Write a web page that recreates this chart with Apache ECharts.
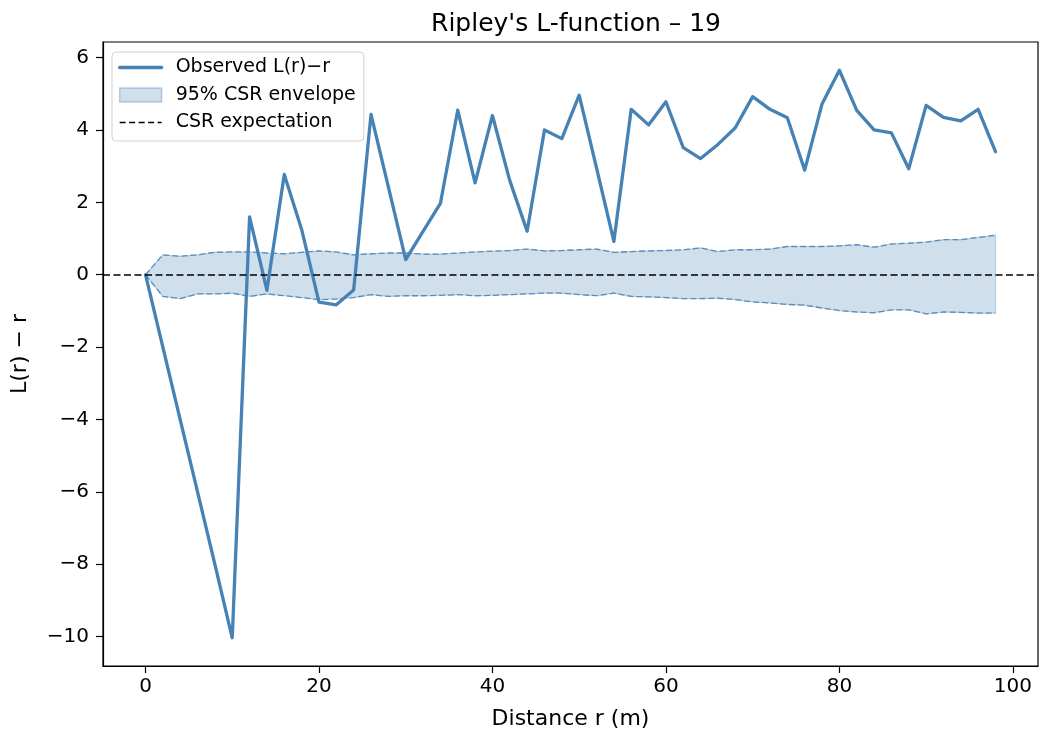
<!DOCTYPE html>
<html>
<head>
<meta charset="utf-8">
<script src="https://cdn.jsdelivr.net/npm/echarts@6/dist/echarts.min.js"></script>
<style>
html,body{margin:0;padding:0;background:#fff;}
#chart{width:1043px;height:738px;}
</style>
</head>
<body>
<div id="chart"></div>
<script>
// ---- data ----
var titleText = "Ripley's L-function \u2013 19";
var xLabel = "Distance r (m)";
var yLabel = "L(r) \u2212 r";
var seriesNames = ["Observed L(r)\u2212r", "95% CSR envelope", "CSR expectation"];
var r = [0,2,4,6,8,10,12,14,16,18,20,22,24,26,28,30,32,34,36,38,40,42,44,46,48,50,52,54,56,58,60,62,64,66,68,70,72,74,76,78,80,82,84,86,88,90,92,94,96,98];
var observed = [0,-2,-4,-6,-8,-10.03,1.6,-0.43,2.77,1.25,-0.76,-0.83,-0.42,4.43,2.43,0.42,1.2,1.97,4.55,2.54,4.40,2.6,1.2,4.0,3.76,4.96,2.95,0.92,4.57,4.14,4.78,3.51,3.21,3.6,4.06,4.92,4.57,4.34,2.89,4.72,5.65,4.54,4.0,3.92,2.93,4.68,4.35,4.25,4.57,3.40];
var upper = [0,0.55,0.51,0.55,0.62,0.63,0.63,0.6,0.58,0.62,0.66,0.63,0.55,0.58,0.6,0.6,0.57,0.57,0.6,0.63,0.65,0.67,0.71,0.66,0.67,0.69,0.71,0.62,0.64,0.66,0.67,0.69,0.74,0.64,0.69,0.69,0.71,0.78,0.78,0.78,0.8,0.83,0.76,0.85,0.87,0.9,0.97,0.97,1.03,1.09];
var lower = [0,-0.6,-0.66,-0.53,-0.53,-0.51,-0.6,-0.53,-0.58,-0.63,-0.69,-0.67,-0.63,-0.55,-0.6,-0.58,-0.58,-0.57,-0.55,-0.58,-0.57,-0.55,-0.53,-0.51,-0.51,-0.55,-0.58,-0.51,-0.6,-0.61,-0.63,-0.66,-0.66,-0.65,-0.69,-0.75,-0.78,-0.82,-0.84,-0.92,-0.99,-1.03,-1.05,-0.97,-0.97,-1.08,-1.03,-1.04,-1.06,-1.06];
var expectation = 0;
var xTicks = [0,20,40,60,80,100];
var yTicks = [-10,-8,-6,-4,-2,0,2,4,6];
var xRange = [-4.9, 102.9];
var yRange = [-10.81, 6.43];

// ---- build ----
var blue = '#4682b4';
var fillColor = 'rgba(70,130,180,0.26)';
var font = 'DejaVu Sans';
function pairs(xs, ys){ return xs.map(function(x,i){ return [x, ys[i]]; }); }
function minusFmt(v){ return String(v).replace('-', '\u2212'); }

var envData = r.map(function(x,i){ return [x, lower[i], upper[i]]; });
var hiddenSymbol = {color: 'rgba(0,0,0,0)', borderColor: 'rgba(0,0,0,0)', borderWidth: 0, opacity: 0};

var chart = echarts.init(document.getElementById('chart'), null, {renderer:'canvas'});
chart.setOption({
  animation: false,
  backgroundColor: '#fff',
  textStyle: {fontFamily: font, color: '#000'},
  title: {
    text: titleText, left: 571, top: 7, textAlign: 'center',
    textStyle: {fontFamily: font, fontSize: 25, fontWeight: 'normal', color: '#000'}
  },
  grid: {left: 103, right: 5, top: 42, bottom: 72, show: true, borderColor: '#000', borderWidth: 1.2, backgroundColor: 'transparent'},
  legend: {
    orient: 'vertical', left: 112, top: 52,
    padding: [6, 8, 9, 6], itemGap: 8.5,
    itemWidth: 42, itemHeight: 14,
    backgroundColor: 'rgba(255,255,255,0.85)', borderColor: '#d2d2d2', borderWidth: 1, borderRadius: 4,
    textStyle: {fontFamily: font, fontSize: 19, color: '#000', lineHeight: 19, padding: [0,0,0,9]},
    data: [
      {name: seriesNames[0], itemStyle: hiddenSymbol, lineStyle: {color: blue, width: 3.3, opacity: 1}},
      {name: seriesNames[1], icon: 'rect', itemStyle: {color: fillColor, borderColor: 'rgba(70,130,180,0.35)', borderWidth: 1.5}},
      {name: seriesNames[2], itemStyle: hiddenSymbol, lineStyle: {color: '#000', width: 1.5, type: [6, 3.5], opacity: 1}}
    ]
  },
  xAxis: {
    type: 'value', min: xRange[0], max: xRange[1],
    name: xLabel, nameLocation: 'middle', nameGap: 42,
    nameTextStyle: {fontFamily: font, fontSize: 22, color: '#000'},
    axisLine: {show: true, onZero: false, lineStyle: {color: '#000', width: 1.2}},
    axisTick: {show: true, inside: false, length: 7, customValues: xTicks, lineStyle: {color: '#000', width: 1.2}},
    axisLabel: {show: true, customValues: xTicks, margin: 11, fontFamily: font, fontSize: 20, color: '#000', formatter: minusFmt},
    splitLine: {show: false}
  },
  yAxis: {
    type: 'value', min: yRange[0], max: yRange[1],
    name: yLabel, nameLocation: 'middle', nameGap: 72, nameRotate: 90,
    nameTextStyle: {fontFamily: font, fontSize: 22, color: '#000'},
    axisLine: {show: true, onZero: false, lineStyle: {color: '#000', width: 1.2}},
    axisTick: {show: true, inside: false, length: 7, customValues: yTicks, lineStyle: {color: '#000', width: 1.2}},
    axisLabel: {show: true, customValues: yTicks, margin: 14, fontFamily: font, fontSize: 20, color: '#000', formatter: minusFmt},
    splitLine: {show: false}
  },
  series: [
    {
      name: seriesNames[1], type: 'custom', z: 1,
      itemStyle: {color: fillColor},
      data: envData,
      encode: {x: 0, y: [1, 2]},
      renderItem: function(params, api){
        if (params.dataIndex !== 0) return null;
        var pts = [];
        for (var i = 0; i < envData.length; i++) pts.push(api.coord([envData[i][0], envData[i][2]]));
        for (var j = envData.length - 1; j >= 0; j--) pts.push(api.coord([envData[j][0], envData[j][1]]));
        return {type: 'polygon', shape: {points: pts},
          style: {fill: fillColor, stroke: 'rgba(70,130,180,0.3)', lineWidth: 1.2}};
      }
    },
    {
      name: 'upper', type: 'line', data: pairs(r, upper), symbol: 'none', z: 2,
      lineStyle: {color: blue, width: 1.3, type: [6, 3], opacity: 0.85}, legendHoverLink: false
    },
    {
      name: 'lower', type: 'line', data: pairs(r, lower), symbol: 'none', z: 2,
      lineStyle: {color: blue, width: 1.3, type: [6, 3], opacity: 0.85}, legendHoverLink: false
    },
    {
      name: seriesNames[2], type: 'line', data: [], symbol: 'none', z: 3,
      itemStyle: {color: '#000'},
      lineStyle: {color: '#000', width: 1.5, type: [6, 3.5]},
      markLine: {
        silent: true, symbol: ['none', 'none'], label: {show: false},
        lineStyle: {color: '#000', width: 1.5, type: [7, 3.5]},
        data: [{yAxis: expectation}]
      }
    },
    {
      name: seriesNames[0], type: 'line', data: pairs(r, observed), symbol: 'none', z: 4,
      itemStyle: {color: blue},
      lineStyle: {color: blue, width: 3.3, join: 'round', cap: 'round'}
    }
  ]
});
</script>
</body>
</html>
